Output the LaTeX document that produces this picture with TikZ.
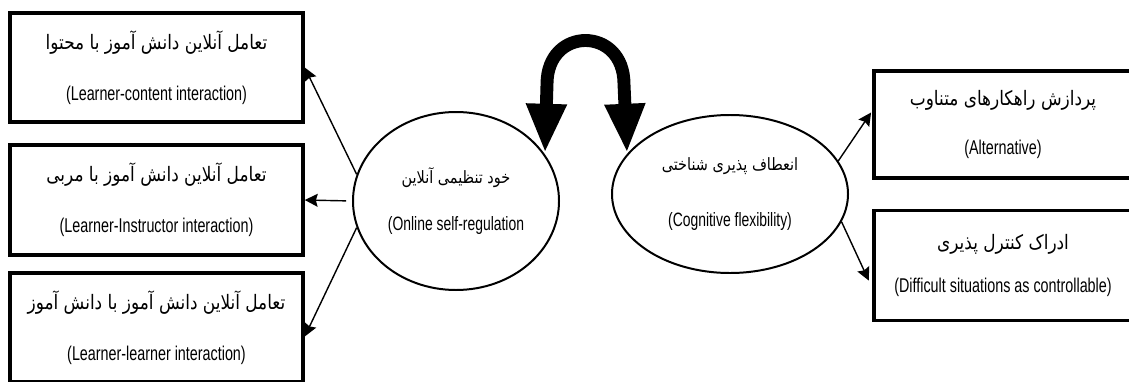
\documentclass[tikz,border=0pt]{standalone}
\usepackage{fontspec}
\usepackage{tikz}
\usetikzlibrary{arrows.meta,shapes.geometric,positioning}
\TeXXeTstate=1
\setmainfont[FakeStretch=0.72]{Liberation Sans}
\newfontfamily\farsifont[Script=Arabic,FakeStretch=0.85]{DejaVu Sans}
\newcommand{\fa}[2][17]{{\farsifont\fontsize{#1}{#1}\selectfont\beginR #2\endR}}
\newcommand{\en}[2][17]{{\fontsize{#1}{#1}\selectfont #2}}

\tikzset{
  box/.style={rectangle, draw, line width=3pt, minimum width=293*0.03cm, minimum height=109*0.03cm, align=center, inner sep=0pt},
  oval/.style={ellipse, draw, line width=1.7pt, align=center, inner sep=0pt},
  link/.style={-{Stealth[length=11pt,width=11pt,inset=1.5pt]}, line width=1.2pt},
  swap/.style={{Triangle[length=42pt,width=32pt]}-{Triangle[length=42pt,width=32pt]}, line width=11pt}
}

\begin{document}
\begin{tikzpicture}[x=0.03cm, y=0.03cm]
    \useasboundingbox (0,0) rectangle (1129,381);

                % Nodes
                \node (b1) [box] at (156.5,313.5) {\fa{تعامل آنلاین دانش آموز با محتوا}\\[26pt]\en{(Learner-content interaction)}};
                \node (b2) [box, minimum height=110*0.03cm] at (156.5,181) {\fa{تعامل آنلاین دانش آموز با مربی}\\[26pt]\en{(Learner-Instructor interaction)}};
                \node (b3) [box] at (156.5,53.5) {\fa{تعامل آنلاین دانش آموز با دانش آموز}\\[26pt]\en{(Learner-learner interaction)}};

                \node (e1) [oval, minimum width=206*0.03cm, minimum height=178*0.03cm] at (456,180) {\fa[14.5]{خود تنظیمی آنلاین}\\[24pt]\en[16.5]{(Online self-regulation}};
                \node (e2) [oval, minimum width=236*0.03cm, minimum height=158*0.03cm] at (730,187) {\fa[14.5]{انعطاف پذیری شناختی}\\[32pt]\en[16.5]{(Cognitive flexibility)}};

                \node (ba) [box, minimum width=258*0.03cm, minimum height=107*0.03cm] at (1003,256.5) {\fa{پردازش راهکارهای متناوب}\\[24pt]\en{(Alternative)}};
                \node (bb) [box, minimum width=258*0.03cm, minimum height=110*0.03cm, below=29*0.03cm of ba] {\fa{ادراک کنترل پذیری}\\[20pt]\en{(Difficult situations as controllable)}};

                % Curved double arrow
                \coordinate (sl) at (545,228);
                \coordinate (sr) at (627,228);
                \draw[swap] (sl) -- (547,297) .. controls (547,355) and (624,355) .. (624,297) -- (sr);

                % Links
                \draw[link] (e1.165) -- (b1.east);
                \draw[link, shorten <=5pt] (e1.west) -- (b2.east);
                \draw[link] (e1.195) -- ([yshift=-9*0.03cm]b3.east);
                \draw[link] (e2.17) -- ([xshift=-1pt,yshift=12*0.03cm]ba.west);
                \draw[link] (e2.346) -- ([xshift=-3pt,yshift=-15*0.03cm]bb.west);

            \end{tikzpicture}
\end{document}
